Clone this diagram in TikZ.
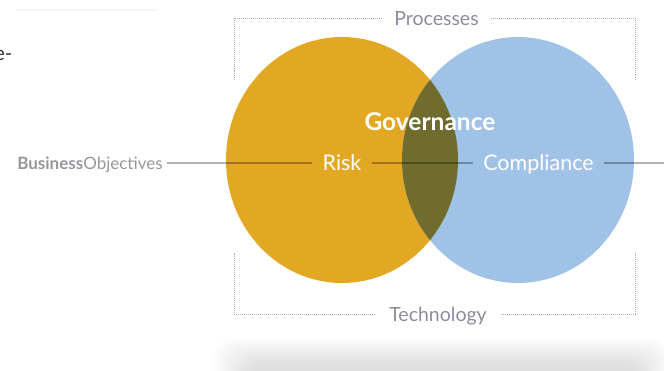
\documentclass[tikz,border=0pt]{standalone}
\usepackage{fontspec}
\setmainfont{Lato}
\usetikzlibrary{positioning}
\definecolor{riskorange}{RGB}{227,168,35}
\definecolor{compblue}{RGB}{160,194,230}
\definecolor{lensolive}{RGB}{111,108,46}
\definecolor{labelgray}{RGB}{140,140,158}
\definecolor{objgray}{RGB}{150,150,155}
\begin{document}
\begin{tikzpicture}[x=1bp, y=-1bp,
    rowlabel/.style={text=white, font=\fontsize{21.5bp}{22bp}\selectfont, text height=15.5bp, text depth=0pt, inner ysep=0pt},
    boxlabel/.style={text=labelgray, font=\fontsize{19.5bp}{20bp}\selectfont, text height=14bp, text depth=0pt, inner ysep=0pt, inner xsep=12bp},
    boxline/.style={draw=black!32, densely dotted, line width=1bp},
    rowline/.style={draw=black, draw opacity=0.3, line width=1.3bp}]
  \useasboundingbox (0,0) rectangle (664,370);

  % shadow under the diagram
  \foreach \k in {0,...,15}
    \fill[black, opacity=0.008, rounded corners=18bp] (214+2.2*\k,338+1.7*\k) rectangle (672-2.2*\k,400);
  \draw[black!4, line width=2bp] (16,10) -- (155,10);
  \node[anchor=base east, inner sep=0pt, text=black!80, font=\fontsize{20bp}{20bp}\selectfont] (edge) at (12.5,60) {e-};

  % the two sets
  \fill[riskorange] (342,160) ellipse [x radius=116, y radius=123];
  \fill[compblue] (518,160) ellipse [x radius=116, y radius=123];
  \begin{scope}
    \clip (342,160) ellipse [x radius=116, y radius=123];
    \fill[lensolive] (518,160) ellipse [x radius=116, y radius=123];
  \end{scope}

  \node (gov) [anchor=base, text=white, font=\bfseries\fontsize{24.5bp}{25bp}\selectfont] at (430,130) {Governance};
  \node (risk) [rowlabel, inner xsep=10bp] at (342,163) {Risk};
  \node (comp) [rowlabel, inner xsep=10bp] at (538.5,163) {Compliance};
  \node (biz) [anchor=east, text=objgray, font=\fontsize{17bp}{18bp}\selectfont, text height=12.5bp, text depth=0pt, inner ysep=0pt, inner xsep=4bp] at (167,163) {\textbf{Business}Objectives};
  \coordinate (out) at (664,163);

  \draw[rowline] (biz) -- (risk);
  \draw[rowline] (risk) -- (comp);
  \draw[rowline] (comp) -- (out);

  % dotted frame
  \node (proc) [boxlabel] at (436.5,18) {Processes};
  \node (tech) [boxlabel, inner xsep=14bp] at (438,314) {Technology};
  \coordinate (tl) at (234,80);
  \coordinate (tr) at (635,80);
  \coordinate (bl) at (234,253);
  \coordinate (br) at (635,253);
  \draw[boxline] (proc.west) -| (tl);
  \draw[boxline] (proc.east) -| (tr);
  \draw[boxline] (tech.west) -| (bl);
  \draw[boxline] (tech.east) -| (br);
\end{tikzpicture}
\end{document}
